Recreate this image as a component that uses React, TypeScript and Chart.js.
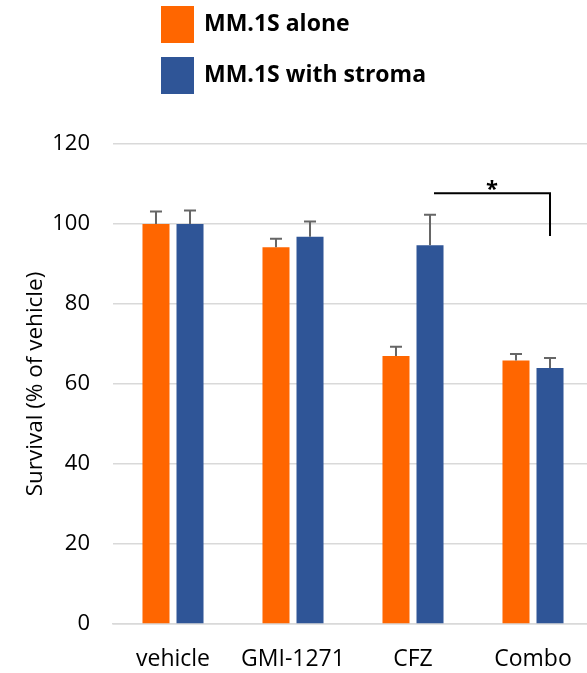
import React, { useEffect, useRef } from "react";
import { Chart, registerables } from "chart.js";

Chart.register(...registerables);

const categories = ["vehicle", "GMI-1271", "CFZ", "Combo"];
const seriesLabels = ["MM.1S alone", "MM.1S with stroma"];
const seriesColors = ["#FF6600", "#2F5597"];
const aloneValues = [100, 94.2, 67.0, 65.9];
const aloneErrors = [3.1, 2.1, 2.3, 1.6];
const stromaValues = [100, 96.8, 94.7, 64.0];
const stromaErrors = [3.4, 3.8, 7.6, 2.5];
const yAxisTitle = "Survival (% of vehicle)";
const yMin = 0;
const yMax = 120;
const yStep = 20;
// significance bracket between the stroma bars of CFZ and Combo
const sigCategories = [2, 3];
const sigLevels = [107.7, 97];
const sigMark = "*";

const FONT = "'Open Sans', sans-serif";

const errorBarPlugin = {
  id: "errorBars",
  afterDatasetsDraw(chart: any) {
    const ctx = chart.ctx;
    const yScale = chart.scales.y;
    const errs = [aloneErrors, stromaErrors];
    ctx.save();
    ctx.strokeStyle = "#666666";
    ctx.lineWidth = 2;
    chart.data.datasets.forEach((ds: any, di: number) => {
      const meta = chart.getDatasetMeta(di);
      meta.data.forEach((bar: any, i: number) => {
        const v = ds.data[i];
        const top = yScale.getPixelForValue(v + errs[di][i]);
        ctx.beginPath();
        ctx.moveTo(bar.x, bar.y);
        ctx.lineTo(bar.x, top);
        ctx.moveTo(bar.x - 6, top);
        ctx.lineTo(bar.x + 6, top);
        ctx.stroke();
      });
    });
    ctx.restore();
  },
};

const bracketPlugin = {
  id: "sigBracket",
  afterDatasetsDraw(chart: any) {
    const ctx = chart.ctx;
    const yScale = chart.scales.y;
    const meta = chart.getDatasetMeta(1);
    const x1 = meta.data[sigCategories[0]].x + 4;
    const x2 = meta.data[sigCategories[1]].x;
    const yTop = yScale.getPixelForValue(sigLevels[0]);
    const yEnd = yScale.getPixelForValue(sigLevels[1]);
    ctx.save();
    ctx.strokeStyle = "#000000";
    ctx.lineWidth = 2;
    ctx.beginPath();
    ctx.moveTo(x1, yTop);
    ctx.lineTo(x2, yTop);
    ctx.lineTo(x2, yEnd);
    ctx.stroke();
    ctx.fillStyle = "#000000";
    ctx.font = `bold 22px ${FONT}`;
    ctx.textAlign = "center";
    ctx.textBaseline = "alphabetic";
    ctx.fillText(sigMark, (x1 + x2) / 2, yTop + 3);
    ctx.restore();
  },
};

const legendPlugin = {
  id: "boxLegend",
  afterDraw(chart: any) {
    const ctx = chart.ctx;
    ctx.save();
    chart.data.datasets.forEach((ds: any, di: number) => {
      const top = 6 + di * 51;
      ctx.fillStyle = ds.backgroundColor;
      ctx.fillRect(161, top, 33, 37);
      ctx.fillStyle = "#000000";
      ctx.font = `bold 23px ${FONT}`;
      ctx.textAlign = "left";
      ctx.textBaseline = "middle";
      ctx.fillText(ds.label, 204, top + 18);
    });
    ctx.restore();
  },
};

export default function App() {
  const canvasRef = useRef<HTMLCanvasElement | null>(null);

  useEffect(() => {
    if (!canvasRef.current) return;
    const chart = new Chart(canvasRef.current, {
      type: "bar",
      data: {
        labels: categories,
        datasets: [
          {
            label: seriesLabels[0],
            data: aloneValues,
            backgroundColor: seriesColors[0],
            borderWidth: 0,
            categoryPercentage: 0.567,
            barPercentage: 0.794,
          },
          {
            label: seriesLabels[1],
            data: stromaValues,
            backgroundColor: seriesColors[1],
            borderWidth: 0,
            categoryPercentage: 0.567,
            barPercentage: 0.794,
          },
        ],
      },
      options: {
        animation: false,
        responsive: true,
        maintainAspectRatio: false,
        layout: { padding: { top: 144, right: 7, left: 0, bottom: 0 } },
        plugins: {
          legend: { display: false },
          tooltip: { enabled: false },
        },
        scales: {
          x: {
            grid: { display: false, drawTicks: false },
            border: { display: true, color: "#D9D9D9", width: 1.5 },
            ticks: {
              padding: 22,
              color: "#000000",
              font: { family: FONT, size: 23 },
            },
            afterFit(scale: any) {
              scale.height = 49;
            },
          },
          y: {
            min: yMin,
            max: yMax,
            grid: { color: "#D9D9D9", lineWidth: 1.5, drawTicks: false },
            border: { display: false },
            ticks: {
              stepSize: yStep,
              padding: 23,
              color: "#000000",
              font: { family: FONT, size: 22 },
            },
            title: {
              display: true,
              text: yAxisTitle,
              color: "#000000",
              font: { family: FONT, size: 22.5 },
              padding: { top: 22, bottom: 0 },
            },
            afterFit(scale: any) {
              scale.width = 113;
            },
          },
        },
      },
      plugins: [errorBarPlugin, bracketPlugin, legendPlugin],
    });
    return () => chart.destroy();
  }, []);

  return (
    <div style={{ position: "fixed", left: 0, top: 0, width: 600, height: 673 }}>
      <canvas ref={canvasRef} />
    </div>
  );
}
